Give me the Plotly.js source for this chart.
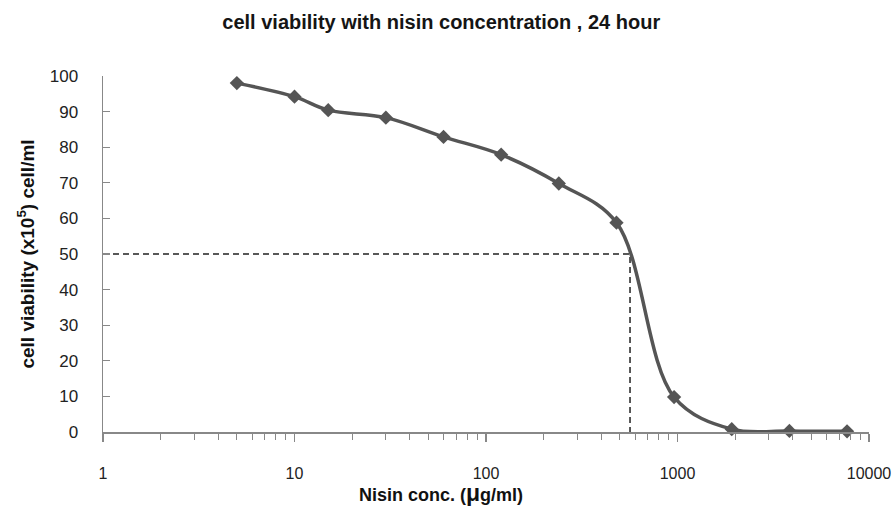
<!DOCTYPE html>
<html>
<head>
<meta charset="utf-8">
<script src="https://cdn.plot.ly/plotly-3.0.1.min.js"></script>
<style>html,body{margin:0;padding:0;background:#fff;}#chart{width:895px;height:510px;}</style>
</head>
<body>
<div id="chart"></div>
<script>
// Data
const concentrations = [5, 10, 15, 30, 60, 120, 240, 480, 960, 1920, 3840, 7680];
const viability = [98, 94.2, 90.4, 88.3, 82.9, 77.9, 69.8, 58.8, 9.8, 0.8, 0.3, 0.2];
const ic50X = [1, 565, 565];
const ic50Y = [50, 50, 0];
const xTickVals = [1, 10, 100, 1000, 10000];
const xTickText = ['1', '10', '100', '1000', '10000'];
const yTickVals = [0, 10, 20, 30, 40, 50, 60, 70, 80, 90, 100];
const xTitle = '<b>Nisin conc. (<span style="font-size:23px">μ</span>g/ml)</b>';

const traces = [
  {
    x: ic50X, y: ic50Y, type: 'scatter', mode: 'lines',
    line: {color: '#222', width: 1.5, dash: '6px,4px'},
    hoverinfo: 'skip', showlegend: false, cliponaxis: false
  },
  {
    x: concentrations, y: viability, type: 'scatter', mode: 'lines+markers',
    line: {color: '#555', width: 3.5, shape: 'spline', smoothing: 1},
    marker: {symbol: 'diamond', size: 11, color: '#555'},
    showlegend: false, cliponaxis: false
  }
];

const layout = {
  width: 895, height: 510,
  margin: {l: 103, r: 26, t: 76, b: 78},
  paper_bgcolor: '#fff', plot_bgcolor: '#fff',
  font: {family: 'Liberation Sans, Arial, sans-serif', color: '#222', size: 16},
  title: {
    text: '<b>cell viability with nisin concentration , 24 hour</b>',
    font: {size: 20, color: '#151515', family: 'Liberation Sans, Arial, sans-serif'},
    x: 0.493, xanchor: 'center', y: 0.957, yanchor: 'middle'
  },
  xaxis: {
    type: 'log', range: [0, 4],
    tickvals: xTickVals, ticktext: xTickText,
    ticks: 'outside', ticklen: 8, tickwidth: 1.2, tickcolor: '#888',
    minor: {ticks: 'outside', ticklen: 6, tickcolor: '#888', tickwidth: 1, dtick: 'D1'},
    showline: true, linecolor: '#888', linewidth: 1.5,
    showgrid: false, zeroline: false,
    ticklabelstandoff: 18,
    tickfont: {size: 16, color: '#222'}
  },
  yaxis: {
    range: [0, 100],
    tickvals: yTickVals,
    ticks: 'inside', ticklen: 7, tickwidth: 1.2, tickcolor: '#888',
    showline: true, linecolor: '#888', linewidth: 1.5,
    showgrid: false, zeroline: false,
    ticklabelstandoff: 20,
    tickfont: {size: 17, color: '#222'},
    title: {text: '<b>cell viability (x10<sup>5</sup>) cell/ml</b>', font: {size: 19, color: '#111'}, standoff: 10}
  },
  annotations: [
    {
      text: xTitle, xref: 'paper', yref: 'paper',
      x: (441 - 103) / 766, y: -0.17, xanchor: 'center', yanchor: 'middle',
      showarrow: false, font: {size: 18, color: '#111'}
    }
  ]
};

Plotly.newPlot('chart', traces, layout, {staticPlot: true, displayModeBar: false});
</script>
</body>
</html>
